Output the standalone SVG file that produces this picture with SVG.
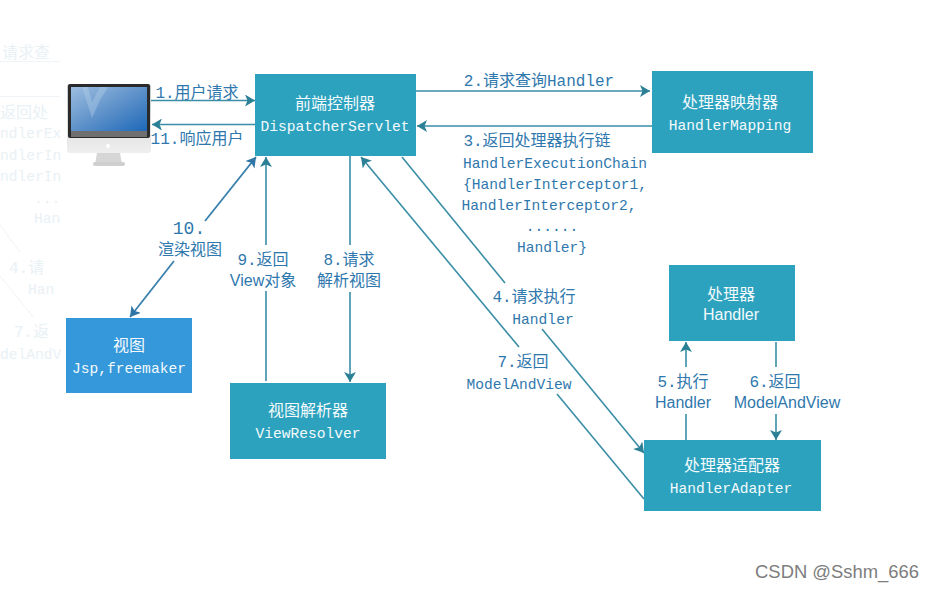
<svg xmlns="http://www.w3.org/2000/svg" width="936" height="591" viewBox="0 0 936 591">
<style>
text{font-family:"Liberation Mono","Noto Sans CJK SC",monospace;font-size:14.6px;text-anchor:middle}
.c{font-size:16px}
.s{font-family:"Liberation Sans","Noto Sans CJK SC",sans-serif;font-size:16px}
.l{fill:#2f78ad}
.n{fill:#f4fafc}
.g{fill:#e9f1f5;text-anchor:start}
.box{fill:#2ca2bf}
.con{fill:none;stroke:#3a8ea6;stroke-width:1.6}
.blue{stroke:#3a80ae;stroke-width:1.8}
</style>
<defs>
<marker id="a" markerUnits="userSpaceOnUse" markerWidth="11" markerHeight="12" refX="10" refY="6" orient="auto"><path d="M0 0L10 6L0 12L2.5 6Z" fill="#2c8096"/></marker>
<marker id="b" markerUnits="userSpaceOnUse" markerWidth="11" markerHeight="12" refX="10" refY="6" orient="auto"><path d="M0 0L10 6L0 12L2.5 6Z" fill="#2f75a5"/></marker>
<linearGradient id="sc" x1="0" y1="0" x2="1" y2="1"><stop offset="0" stop-color="#9dbde0"/><stop offset=".5" stop-color="#5f92ca"/><stop offset="1" stop-color="#1d68b8"/></linearGradient>
<linearGradient id="st" x1="0" y1="0" x2="0" y2="1"><stop offset="0" stop-color="#c8c8c8"/><stop offset="1" stop-color="#efefef"/></linearGradient>
</defs>
<rect width="936" height="591" fill="#fff"/>
<g id="ghost">
<text class="g c" x="2" y="58">请求查</text>
<path d="M0 61.5H60M0 96.5H60M0 225L20 252M0 276L34 318" stroke="#eef4f7" stroke-width="1" fill="none"/>
<text class="g c" x="0" y="118">返回处</text>
<text class="g" x="0" y="138">ndlerEx</text>
<text class="g" x="0" y="160">ndlerIn</text>
<text class="g" x="0" y="181">ndlerIn</text>
<text class="g" x="34" y="203">...</text>
<text class="g" x="34" y="223">Han</text>
<text class="g c" x="9" y="273">4.请</text>
<text class="g" x="28" y="294">Han</text>
<text class="g c" x="14" y="337">7.返</text>
<text class="g" x="0" y="359">delAndV</text>
</g>
<g id="connectors">
<path class="con" d="M150 100.5H255" marker-end="url(#a)"/>
<path class="con" d="M255 124.5H152" marker-end="url(#a)"/>
<path class="con" d="M416 91H650" marker-end="url(#a)"/>
<path class="con" d="M652 126H417" marker-end="url(#a)"/>
<path class="con blue" d="M205 221L256 157" marker-end="url(#b)"/>
<path class="con blue" d="M174 261L130 317" marker-end="url(#b)"/>
<path class="con" d="M266 245V157" marker-end="url(#a)"/>
<path class="con" d="M266 381V291"/>
<path class="con" d="M350 156V245"/>
<path class="con" d="M350 292V382" marker-end="url(#a)"/>
<path class="con" d="M402 157L505 283"/>
<path class="con" d="M542 329L644 453" marker-end="url(#a)"/>
<path class="con" d="M519 347L361 157" marker-end="url(#a)"/>
<path class="con" d="M557 394L644 499"/>
<path class="con" d="M686 440V414"/>
<path class="con" d="M686 367V342" marker-end="url(#a)"/>
<path class="con" d="M776 342V367"/>
<path class="con" d="M776 414V440" marker-end="url(#a)"/>
</g>
<g id="computer">
<rect x="67" y="84" width="84" height="69" rx="3" fill="url(#st)"/>
<rect x="68" y="84" width="82" height="54" rx="2" fill="#2a2a2a"/>
<rect x="71" y="87" width="76" height="44" fill="url(#sc)"/>
<path d="M82 87L92 118L100 100L108 87H100L92 102L88 87Z" fill="#b5cfe8" opacity=".4"/>
<rect x="71" y="131" width="76" height="6" fill="#6f6f6f"/>
<circle cx="108" cy="146" r="2" fill="#fff"/>
<path d="M97 153H120L122 164H95Z" fill="#d6d6d6"/>
<rect x="93" y="162" width="32" height="4" rx="2" fill="#cfcfcf"/>
</g>
<g id="label-1"><text class="c l" x="197" y="98">1.用户请求</text></g>
<g id="label-11"><text class="c l" x="197" y="144">11.响应用户</text></g>
<g id="dispatcher"><rect class="box" x="255" y="74" width="161" height="82"/><text class="c n" x="335" y="109">前端控制器</text><text class="n" x="335" y="131">DispatcherServlet</text></g>
<g id="mapping"><rect class="box" x="652" y="71" width="161" height="82"/><text class="c n" x="730" y="108">处理器映射器</text><text class="n" x="730" y="130">HandlerMapping</text></g>
<g id="handler"><rect class="box" x="669" y="265" width="126" height="76"/><text class="c n" x="731" y="300">处理器</text><text class="s n" x="731" y="320">Handler</text></g>
<g id="adapter"><rect class="box" x="644" y="440" width="177" height="71"/><text class="c n" x="732" y="471">处理器适配器</text><text class="n" x="731" y="493">HandlerAdapter</text></g>
<g id="view"><rect x="66" y="318" width="126" height="75" fill="#3498db"/><text class="c n" x="129" y="351">视图</text><text class="n" x="129" y="373">Jsp,freemaker</text></g>
<g id="resolver"><rect class="box" x="230" y="383" width="156" height="76"/><text class="c n" x="308" y="416">视图解析器</text><text class="n" x="308" y="438">ViewResolver</text></g>
<g id="labels">
<text class="c l" x="539" y="86">2.请求查询Handler</text>
<text class="c l" x="537" y="146">3.返回处理器执行链</text>
<text class="l" x="555" y="168">HandlerExecutionChain</text>
<text class="l" x="555" y="189">{HandlerInterceptor1,</text>
<text class="l" x="549" y="210">HandlerInterceptor2,</text>
<text class="l" x="552" y="231">......</text>
<text class="l" x="552" y="252">Handler}</text>
<text class="c l" x="534" y="302">4.请求执行</text>
<text class="l" x="543" y="324">Handler</text>
<text class="c l" x="523" y="367">7.返回</text>
<text class="l" x="519" y="389">ModelAndView</text>
<text class="c l" x="683" y="387">5.执行</text>
<text class="s l" x="683" y="408">Handler</text>
<text class="c l" x="775" y="387">6.返回</text>
<text class="s l" x="787" y="408">ModelAndView</text>
<text class="l" x="189" y="234" style="font-size:18px">10.</text>
<text class="c l" x="190" y="255">渲染视图</text>
<text class="c l" x="263" y="265">9.返回</text>
<text class="s l" x="263" y="286">View对象</text>
<text class="c l" x="349" y="265">8.请求</text>
<text class="c l" x="349" y="286">解析视图</text>
</g>
<text id="watermark" x="837" y="578" style="font-family:'Liberation Sans',sans-serif;font-size:18.4px;fill:#7d7d7d">CSDN @Sshm_666</text>
</svg>
